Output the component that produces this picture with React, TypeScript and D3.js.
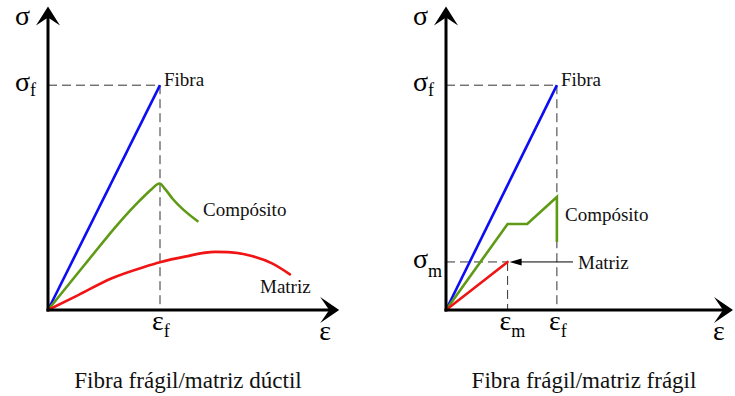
import React from "react";
import * as d3 from "d3";

// Stress–strain sketches: brittle fibre in a ductile matrix, and in a brittle matrix.
const panelTitles = ["Fibra frágil/matriz dúctil", "Fibra frágil/matriz frágil"];
const seriesNames = ["Fibra", "Compósito", "Matriz"];

// Left panel (ductile matrix), strain ε and stress σ in arbitrary units
const fiberDuctile: [number, number][] = [[0, 0], [4, 8]];
const compositeDuctile: [number, number][] = [
  [0, 0], [1.3, 1.6], [2.57, 3.14], [3.29, 3.91], [3.7, 4.3], [3.98, 4.5],
  [4.2, 4.28], [4.45, 3.96], [5.37, 3.14],
];
const matrixDuctile: [number, number][] = [
  [0, 0], [1.08, 0.53], [2.28, 1.13], [3.46, 1.54], [4, 1.7], [4.89, 1.9],
  [5.96, 2.07], [6.43, 2.06], [7.28, 1.92], [8, 1.66], [8.64, 1.27],
];
const ductileMarks = { epsF: 4, sigmaF: 8 };

// Right panel (brittle matrix)
const fiberBrittle: [number, number][] = [[0, 0], [3.96, 8]];
const compositeBrittle: [number, number][] = [
  [0, 0], [2.2, 3.06], [2.9, 3.06], [3.96, 4.02], [3.96, 2.42],
];
const matrixBrittle: [number, number][] = [[0, 0], [2.2, 1.71]];
const brittleMarks = { epsF: 3.96, sigmaF: 8, epsM: 2.2, sigmaM: 1.71 };

const W = 735;
const H = 396;
const FONT = "'Liberation Serif', 'Times New Roman', Times, serif";
const BLUE = "#0c0cf5";
const GREEN = "#5f9a16";
const RED = "#f01414";
const PX_PER_UNIT_X = 28;
const PX_PER_UNIT_Y = 28.1;
const ORIGIN_Y = 310;
const Y_MAX = 10.8;

function yAxisArrow(x: number, yTip: number) {
  return `M${x},${yTip} L${x + 12},${yTip + 19} L${x},${yTip + 11} L${x - 12},${yTip + 19} Z`;
}
function xAxisArrow(xTip: number, y: number) {
  return `M${xTip},${y} L${xTip - 19},${y - 13} L${xTip - 10},${y} L${xTip - 19},${y + 13} Z`;
}

type PanelProps = {
  originX: number;
  xMax: number;
  title: string;
  titleX: number;
  fiber: [number, number][];
  composite: [number, number][];
  matrix: [number, number][];
  epsF: number;
  sigmaF: number;
  epsM?: number;
  sigmaM?: number;
  smooth: boolean;
  compositeLabel: [number, number];
  matrixLabel: [number, number];
};

function Panel(p: PanelProps) {
  const x = d3.scaleLinear().domain([0, p.xMax]).range([p.originX, p.originX + p.xMax * PX_PER_UNIT_X]);
  const y = d3.scaleLinear().domain([0, Y_MAX]).range([ORIGIN_Y, ORIGIN_Y - Y_MAX * PX_PER_UNIT_Y]);
  const curve = p.smooth ? d3.curveMonotoneX : d3.curveLinear;
  const line = d3.line<[number, number]>().x((d) => x(d[0])).y((d) => y(d[1]));
  const smoothLine = d3.line<[number, number]>().x((d) => x(d[0])).y((d) => y(d[1])).curve(curve);

  const x0 = x(0);
  const y0 = y(0);
  const xEnd = x(p.xMax);
  const yEnd = y(Y_MAX);
  const dash = "9,5";
  const fiberEnd = p.fiber[p.fiber.length - 1];

  return (
    <g>
      {/* guide lines */}
      <g stroke="#333" strokeWidth={1} strokeDasharray={dash} fill="none">
        <line x1={x0} y1={y(p.sigmaF)} x2={x(p.epsF)} y2={y(p.sigmaF)} />
        <line x1={x(p.epsF)} y1={y(p.sigmaF)} x2={x(p.epsF)} y2={y0} />
        {p.epsM !== undefined && p.sigmaM !== undefined && (
          <>
            <line x1={x0} y1={y(p.sigmaM)} x2={x(p.epsM)} y2={y(p.sigmaM)} />
            <line x1={x(p.epsM)} y1={y(p.sigmaM)} x2={x(p.epsM)} y2={y0} />
          </>
        )}
      </g>

      {/* curves */}
      <path d={line(p.fiber) ?? ""} stroke={BLUE} strokeWidth={2.6} fill="none" strokeLinejoin="round" />
      <path d={smoothLine(p.composite) ?? ""} stroke={GREEN} strokeWidth={2.6} fill="none" strokeLinejoin="miter" />
      <path d={smoothLine(p.matrix) ?? ""} stroke={RED} strokeWidth={2.6} fill="none" strokeLinecap="round" />

      {/* axes */}
      <line x1={x0} y1={y0 + 1.5} x2={x0} y2={yEnd + 8} stroke="#000" strokeWidth={3} />
      <line x1={x0 - 1.5} y1={y0} x2={xEnd - 8} y2={y0} stroke="#000" strokeWidth={3} />
      <path d={yAxisArrow(x0, yEnd)} fill="#000" />
      <path d={xAxisArrow(xEnd, y0)} fill="#000" />

      {/* axis symbols */}
      <g fontFamily={FONT} fill="#000">
        <text x={x0 - 33} y={25} fontSize={28}>σ</text>
        <text x={x0 - 33} y={y(p.sigmaF) + 6} fontSize={28}>
          σ<tspan fontSize={18} dy={5}>f</tspan>
        </text>
        {p.sigmaM !== undefined && (
          <text x={x0 - 33} y={y(p.sigmaM) + 6} fontSize={28}>
            σ<tspan fontSize={18} dy={9}>m</tspan>
          </text>
        )}
        <text x={x(p.epsF) - 8} y={330} fontSize={28}>
          ε<tspan fontSize={18} dy={7}>f</tspan>
        </text>
        {p.epsM !== undefined && (
          <text x={x(p.epsM) - 8} y={330} fontSize={28}>
            ε<tspan fontSize={18} dy={7}>m</tspan>
          </text>
        )}
        <text x={xEnd - 20} y={340} fontSize={28}>ε</text>
      </g>

      {/* curve labels */}
      <g fontFamily={FONT} fontSize={19} fill="#111">
        <text x={x(fiberEnd[0]) + 4} y={y(fiberEnd[1]) + 1}>{seriesNames[0]}</text>
        <text x={p.compositeLabel[0]} y={p.compositeLabel[1]}>{seriesNames[1]}</text>
        <text x={p.matrixLabel[0]} y={p.matrixLabel[1]}>{seriesNames[2]}</text>
      </g>

      <text x={p.titleX} y={388} fontFamily={FONT} fontSize={23} textAnchor="middle" fill="#111">
        {p.title}
      </text>
    </g>
  );
}

export default function App() {
  const yM = ORIGIN_Y - brittleMarks.sigmaM * PX_PER_UNIT_Y;
  const xM = 446 + brittleMarks.epsM * PX_PER_UNIT_X;
  return (
    <svg
      width={W}
      height={H}
      viewBox={`0 0 ${W} ${H}`}
      style={{ position: "absolute", left: 0, top: 0, background: "#fff", display: "block" }}
    >
      <rect x={0} y={0} width={W} height={H} fill="#fff" />
      <Panel
        originX={48}
        xMax={10.4}
        title={panelTitles[0]}
        titleX={188}
        fiber={fiberDuctile}
        composite={compositeDuctile}
        matrix={matrixDuctile}
        epsF={ductileMarks.epsF}
        sigmaF={ductileMarks.sigmaF}
        smooth={true}
        compositeLabel={[203, 216]}
        matrixLabel={[260, 293]}
      />
      <Panel
        originX={446}
        xMax={10.25}
        title={panelTitles[1]}
        titleX={584}
        fiber={fiberBrittle}
        composite={compositeBrittle}
        matrix={matrixBrittle}
        epsF={brittleMarks.epsF}
        sigmaF={brittleMarks.sigmaF}
        epsM={brittleMarks.epsM}
        sigmaM={brittleMarks.sigmaM}
        smooth={false}
        compositeLabel={[565, 221]}
        matrixLabel={[578, 269]}
      />
      {/* pointer from the matrix label to its failure point */}
      <line x1={573} y1={yM} x2={xM + 12} y2={yM} stroke="#000" strokeWidth={1} />
      <path d={`M${xM + 2},${yM} L${xM + 14},${yM - 3.5} L${xM + 14},${yM + 3.5} Z`} fill="#000" />
    </svg>
  );
}
